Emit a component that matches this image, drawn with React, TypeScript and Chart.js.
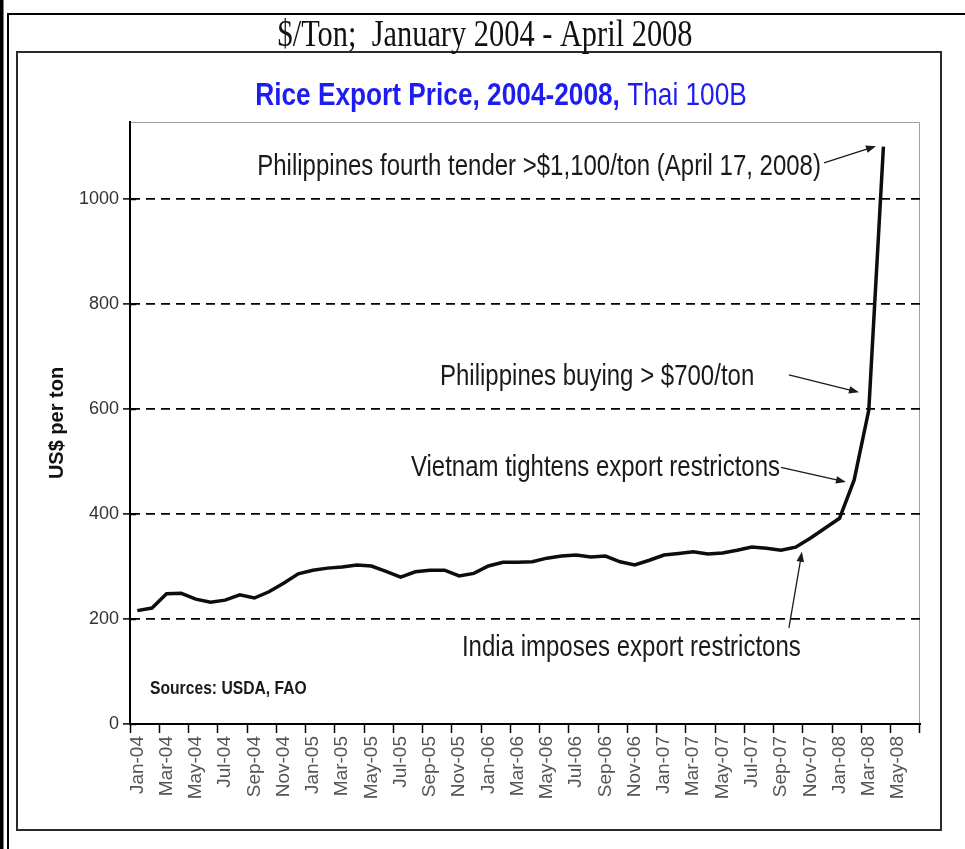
import { useEffect, useRef } from 'react';
import { Chart, registerables } from 'chart.js';

Chart.register(...registerables);
Chart.defaults.font.family = "'Liberation Sans', Arial, sans-serif";

// Monthly categories, Jan-04 .. Jun-08
const categories = [
  'Jan-04', 'Feb-04', 'Mar-04', 'Apr-04', 'May-04', 'Jun-04', 'Jul-04', 'Aug-04', 'Sep-04', 'Oct-04', 'Nov-04', 'Dec-04',
  'Jan-05', 'Feb-05', 'Mar-05', 'Apr-05', 'May-05', 'Jun-05', 'Jul-05', 'Aug-05', 'Sep-05', 'Oct-05', 'Nov-05', 'Dec-05',
  'Jan-06', 'Feb-06', 'Mar-06', 'Apr-06', 'May-06', 'Jun-06', 'Jul-06', 'Aug-06', 'Sep-06', 'Oct-06', 'Nov-06', 'Dec-06',
  'Jan-07', 'Feb-07', 'Mar-07', 'Apr-07', 'May-07', 'Jun-07', 'Jul-07', 'Aug-07', 'Sep-07', 'Oct-07', 'Nov-07', 'Dec-07',
  'Jan-08', 'Feb-08', 'Mar-08', 'Apr-08', 'May-08', 'Jun-08',
];

// Thai 100B export price, US$ per ton
const price2004 = [216, 221, 248, 249, 238, 232, 236, 246, 240, 252, 268, 286];
const price2005 = [293, 297, 299, 303, 301, 291, 280, 290, 293, 293, 282, 287];
const price2006 = [301, 308, 308, 309, 316, 320, 322, 318, 320, 309, 303, 312];
const price2007 = [322, 325, 328, 324, 326, 331, 337, 335, 331, 337, 354, 373];
const price2008 = [392, 465, 598, 1100];
const prices = [...price2004, ...price2005, ...price2006, ...price2007, ...price2008];

const yTicks = [0, 200, 400, 600, 800, 1000];
const yMax = 1147;

const pageTitle = '$/Ton;  January 2004 - April 2008';
const chartTitleBold = 'Rice Export Price, 2004-2008,';
const chartTitleNormal = ' Thai 100B';
const sourceNote = 'Sources: USDA, FAO';

// Annotations anchored in data coordinates: [category index, value]
const annotations = [
  { text: 'Philippines fourth tender >$1,100/ton (April 17, 2008)', at: [46.73, 1046], align: 'right', from: [46.94, 1069], to: [50.49, 1101] },
  { text: 'Philippines buying > $700/ton', at: [20.69, 646], align: 'left', from: [44.54, 665], to: [49.33, 632] },
  { text: 'Vietnam tightens export restrictons', at: [43.93, 472], align: 'right', from: [44.0, 489], to: [48.44, 461] },
  { text: 'India imposes export restrictons', at: [22.19, 130], align: 'left', from: [44.54, 183], to: [45.43, 328] },
];
const sourceAt = [0.87, 57];

const SANS = "'Liberation Sans', Arial, sans-serif";
const SERIF = "'Liberation Serif', 'Times New Roman', serif";

function drawText(ctx: CanvasRenderingContext2D, text: string, x: number, y: number, font: string, color: string, align: CanvasTextAlign, sx: number) {
  ctx.save();
  ctx.translate(x, y);
  ctx.scale(sx, 1);
  ctx.font = font;
  ctx.fillStyle = color;
  ctx.textAlign = align;
  ctx.textBaseline = 'alphabetic';
  ctx.fillText(text, 0, 0);
  ctx.restore();
}

function drawArrow(ctx: CanvasRenderingContext2D, x1: number, y1: number, x2: number, y2: number) {
  const a = Math.atan2(y2 - y1, x2 - x1);
  const L = 10, W = 3.8;
  ctx.beginPath();
  ctx.moveTo(x1, y1);
  ctx.lineTo(x2 - Math.cos(a) * 4, y2 - Math.sin(a) * 4);
  ctx.stroke();
  ctx.beginPath();
  ctx.moveTo(x2, y2);
  ctx.lineTo(x2 - L * Math.cos(a) + W * Math.sin(a), y2 - L * Math.sin(a) - W * Math.cos(a));
  ctx.lineTo(x2 - L * Math.cos(a) - W * Math.sin(a), y2 - L * Math.sin(a) + W * Math.cos(a));
  ctx.closePath();
  ctx.fill();
}

const decorPlugin = {
  id: 'decor',
  beforeDraw(chart: any) {
    const { ctx, chartArea, width, height } = chart;
    ctx.save();
    // page frame
    ctx.fillStyle = '#000';
    ctx.fillRect(0, 0, 3.5, height);
    ctx.strokeStyle = '#000';
    ctx.lineWidth = 2;
    ctx.beginPath();
    ctx.moveTo(8, height);
    ctx.lineTo(8, 14);
    ctx.lineTo(width, 14);
    ctx.stroke();
    // chart box
    ctx.strokeStyle = '#2a2a2a';
    ctx.lineWidth = 2;
    ctx.strokeRect(17, 52, 924, 778);
    // plot area border (top / right)
    ctx.strokeStyle = '#a0a0a0';
    ctx.lineWidth = 1;
    ctx.beginPath();
    ctx.moveTo(chartArea.left, chartArea.top + 0.5);
    ctx.lineTo(chartArea.right - 0.5, chartArea.top + 0.5);
    ctx.lineTo(chartArea.right - 0.5, chartArea.bottom);
    ctx.stroke();

    // page title
    drawText(ctx, pageTitle, 485, 46, `38px ${SERIF}`, '#111', 'center', 0.8);

    // chart title, blue, bold + normal
    const sx = 0.82;
    const fb = `bold 32px ${SANS}`;
    const fn = `32px ${SANS}`;
    ctx.font = fb;
    const w1 = ctx.measureText(chartTitleBold).width;
    ctx.font = fn;
    const w2 = ctx.measureText(chartTitleNormal).width;
    const start = 501 - ((w1 + w2) * sx) / 2;
    drawText(ctx, chartTitleBold, start, 105, fb, '#1d1df2', 'left', sx);
    drawText(ctx, chartTitleNormal, start + w1 * sx, 105, fn, '#1d1df2', 'left', sx);
    ctx.restore();
  },
  afterDraw(chart: any) {
    const { ctx } = chart;
    const xs = chart.scales.x;
    const ys = chart.scales.y;
    const px = (p: number[]) => [xs.getPixelForValue(p[0]), ys.getPixelForValue(p[1])];
    ctx.save();
    // inner halves of y tick marks (crossing the axis)
    ctx.strokeStyle = '#000';
    ctx.lineWidth = 1.5;
    for (const v of yTicks) {
      const y = Math.round(ys.getPixelForValue(v)) + 0.5;
      ctx.beginPath();
      ctx.moveTo(chart.chartArea.left, y);
      ctx.lineTo(chart.chartArea.left + 6, y);
      ctx.stroke();
    }
    ctx.strokeStyle = '#1a1a1a';
    ctx.fillStyle = '#1a1a1a';
    ctx.lineWidth = 1.3;
    for (const a of annotations) {
      const [tx, ty] = px(a.at);
      drawText(ctx, a.text, tx, ty, `30px ${SANS}`, '#1a1a1a', a.align as CanvasTextAlign, 0.8);
      const [x1, y1] = px(a.from);
      const [x2, y2] = px(a.to);
      drawArrow(ctx, x1, y1, x2, y2);
    }
    const [sxp, syp] = px(sourceAt);
    drawText(ctx, sourceNote, sxp, syp, `bold 18px ${SANS}`, '#1a1a1a', 'left', 0.87);
    ctx.restore();
  },
};

export default function App() {
  const ref = useRef<HTMLCanvasElement>(null);
  useEffect(() => {
    if (!ref.current) return;
    const transparent = 'rgba(0,0,0,0)';
    const chart = new Chart(ref.current, {
      type: 'line',
      data: {
        labels: categories,
        datasets: [
          {
            label: 'Thai 100B',
            data: prices,
            borderColor: '#0d0d0d',
            borderWidth: 3.5,
            pointRadius: 0,
            tension: 0,
            fill: false,
          },
        ],
      },
      options: {
        animation: false,
        responsive: false,
        devicePixelRatio: 1,
        layout: { padding: { left: 0, right: 45, top: 122, bottom: 0 } },
        plugins: {
          legend: { display: false },
          title: { display: false },
          tooltip: { enabled: false },
        },
        scales: {
          x: {
            type: 'category',
            offset: true,
            grid: {
              offset: true,
              drawOnChartArea: false,
              drawTicks: true,
              tickLength: 9,
              tickWidth: 1.5,
              tickColor: (c: any) => (c.index === undefined || c.index % 2 === 0 ? '#000' : transparent),
            },
            border: { display: true, color: '#000', width: 2 },
            ticks: {
              autoSkip: false,
              maxRotation: 90,
              minRotation: 90,
              padding: 3,
              color: '#555',
              font: { size: 19 },
              callback: (_v: any, i: number) => (i % 2 === 0 ? categories[i] : ''),
            },
            afterFit: (s: any) => {
              s.height = 125;
            },
          },
          y: {
            min: 0,
            max: yMax,
            afterBuildTicks: (axis: any) => {
              axis.ticks = yTicks.map((v) => ({ value: v }));
            },
            grid: {
              color: (c: any) => (c.tick && c.tick.value === 0 ? transparent : '#000'),
              lineWidth: 1.8,
              drawTicks: true,
              tickLength: 7,
              tickWidth: 1.5,
              tickColor: '#000',
            },
            border: { display: true, color: '#000', width: 2, dash: [9, 6] },
            ticks: {
              color: '#333',
              font: { size: 18 },
              padding: 4,
              callback: (v: any) => String(v),
            },
            title: {
              display: true,
              text: 'US$ per ton',
              color: '#111',
              font: { size: 20, weight: 'bold' },
              padding: { top: 45, bottom: 0 },
            },
            afterFit: (s: any) => {
              s.width = 130;
            },
          },
        },
      },
      plugins: [decorPlugin],
    } as any);
    return () => chart.destroy();
  }, []);
  return (
    <div style={{ position: 'absolute', left: 0, top: 0, width: 965, height: 849, background: '#fff' }}>
      <canvas ref={ref} width={965} height={849} style={{ display: 'block' }} />
    </div>
  );
}
